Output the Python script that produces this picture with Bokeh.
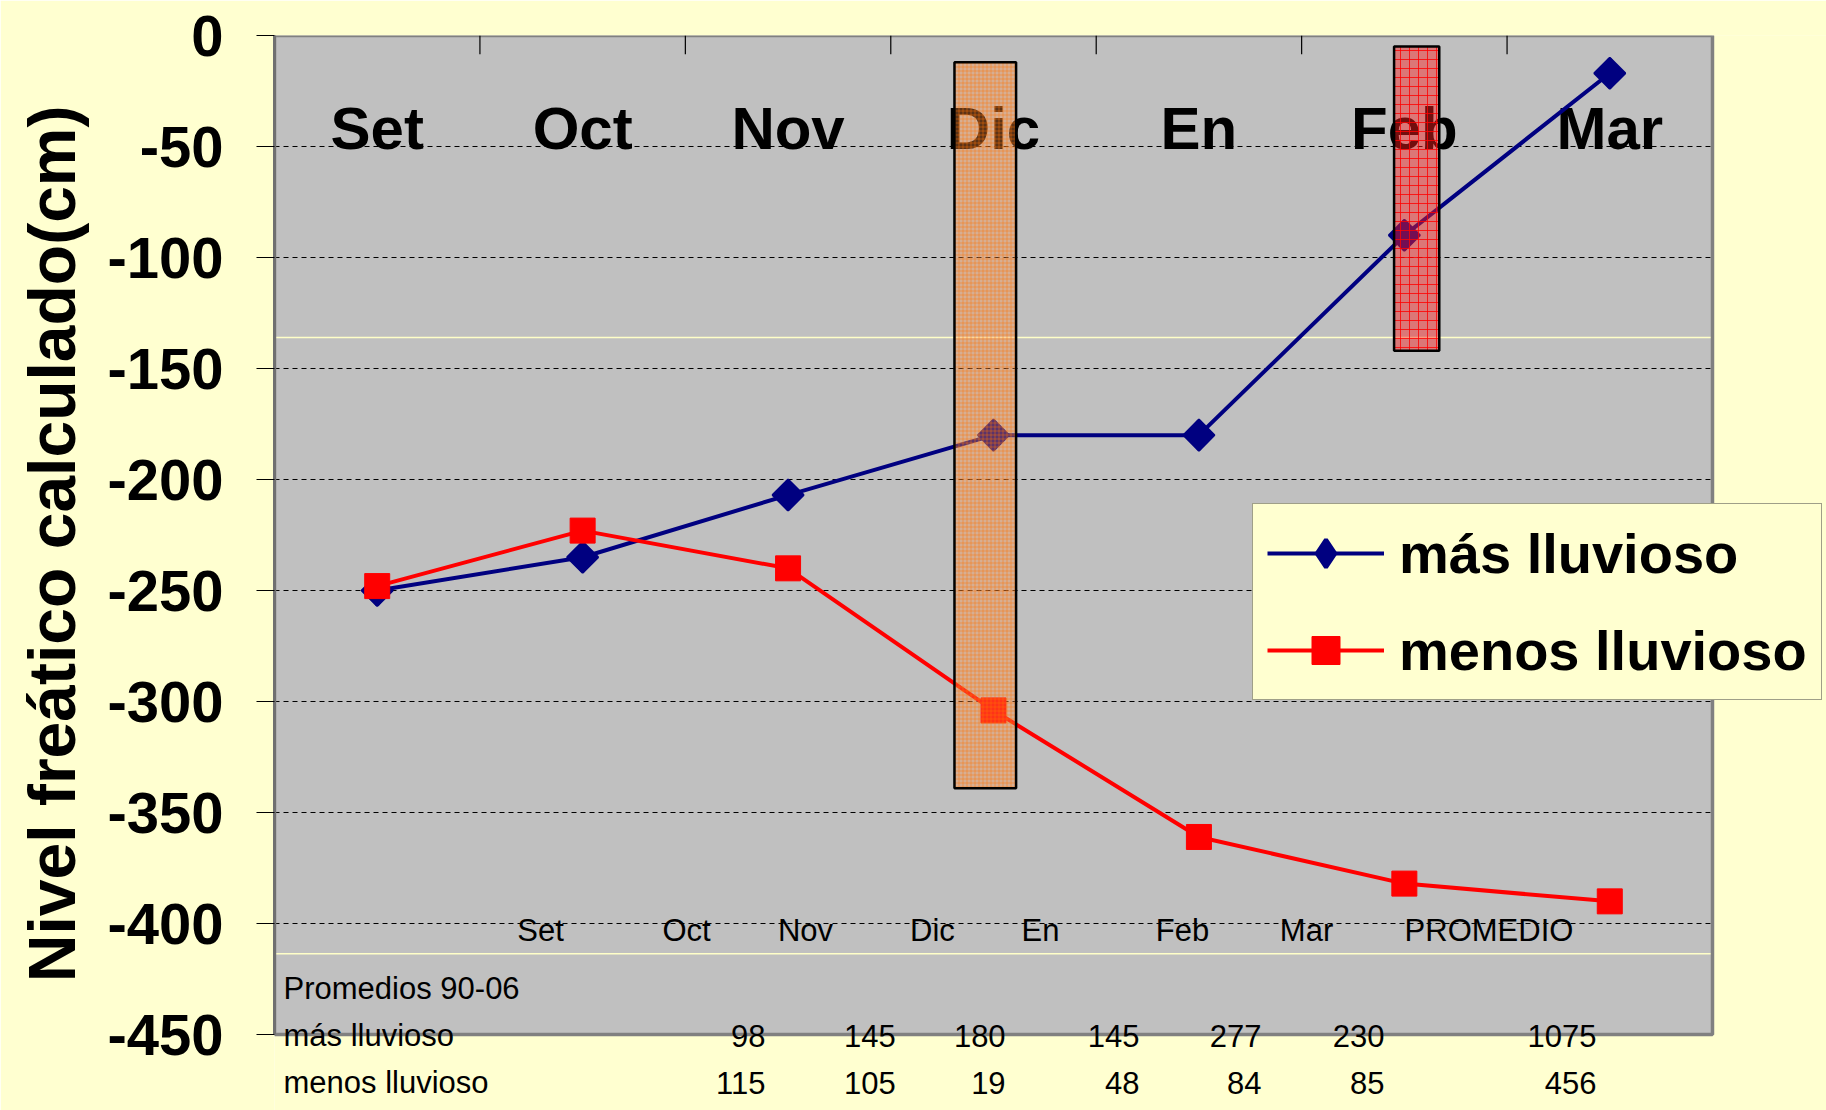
import math
from bokeh.plotting import figure
from bokeh.models import Range1d, FixedTicker, Legend, LegendItem, Title
from bokeh.core.properties import value
from bokeh.embed import file_html
from bokeh.resources import INLINE

# ---------------- data ----------------
months = ["Set", "Oct", "Nov", "Dic", "En", "Feb", "Mar"]
mas_lluvioso = [-250, -235, -207, -180, -180, -90, -17]
menos_lluvioso = [-248, -223, -240, -304, -361, -382, -390]

y_ticks = [0, -50, -100, -150, -200, -250, -300, -350, -400, -450]
y_tick_labels = ["0", "-50", "-100", "-150", "-200", "-250", "-300", "-350", "-400", "-450"]
y_title = "Nivel freático calculado(cm)"

# highlighted months (bands), in category units along x and cm along y
band_left = [3.31, 5.45]
band_right = [3.61, 5.67]
band_top = [-12, -5]
band_bottom = [-339, -142]

# table of average rainfall 90-06
table_header = ["Set", "Oct", "Nov", "Dic", "En", "Feb", "Mar", "PROMEDIO"]
table_title = "Promedios 90-06"
row_labels = ["más lluvioso", "menos lluvioso"]
lluvia_mas = [98, 145, 180, 145, 277, 230, 1075]
lluvia_menos = [115, 105, 19, 48, 84, 85, 456]

# ---------------- layout (style) ----------------
header_x = [1.295, 2.006, 2.585, 3.203, 3.729, 4.42, 5.024, 5.912]
value_x = [2.390, 3.024, 3.559, 4.211, 4.805, 5.403, 6.435]
table_y = [-403.2, -429.3, -450.6, -471.7]
table_left_x = 0.044
separator_y = [-136, -413.6]

BG = "#FFFFD0"
GREY = "#C0C0C0"
FONT = "Liberation Sans"
NAVY = "#000080"
RED = "#FF0000"

n = len(months)
xc = [i + 0.5 for i in range(n)]

p = figure(width=1826, height=1110, x_range=Range1d(0, 7.555), y_range=Range1d(-484.2, 0),
           output_backend="svg", toolbar_location=None,
           min_border_left=274, min_border_top=35, min_border_bottom=0, min_border_right=0)
p.background_fill_color = BG
p.border_fill_color = BG
p.outline_line_color = None

# plot area background
p.quad(left=[0], right=[n], top=[y_ticks[0]], bottom=[y_ticks[-1]], fill_color=GREY,
       line_color=None, level="image")

# grid
p.xgrid.visible = False
p.ygrid.ticker = FixedTicker(ticks=y_ticks[1:-1])
p.ygrid.grid_line_color = "black"
p.ygrid.grid_line_dash = "5 4"
p.ygrid.grid_line_width = 1

# mask right of the plot area
p.quad(left=[n], right=[7.6], top=[0], bottom=[-485], fill_color=BG, line_color=None)

# thin yellowish separator lines
p.segment(x0=[0] * 2, x1=[n] * 2, y0=separator_y, y1=separator_y,
          line_color="#FFFFC8", line_width=1.5)

# border of plot area
p.quad(left=[0], right=[n], top=[y_ticks[0]], bottom=[y_ticks[-1]], fill_color=None,
       line_color="#808080", line_width=3.5)

# category tick marks on the top edge (pointing into the plot)
bounds = list(range(1, n))
p.segment(x0=bounds, x1=bounds, y0=[0] * len(bounds), y1=[-8.5] * len(bounds),
          line_color="black", line_width=1.2)

# y axis
p.xaxis.visible = False
ya = p.yaxis[0]
ya.ticker = FixedTicker(ticks=y_ticks)
ya.major_label_overrides = {t: s for t, s in zip(y_ticks, y_tick_labels)}
ya.bounds = (y_ticks[-1], y_ticks[0])
ya.major_label_text_font = FONT
ya.major_label_text_font_style = "bold"
ya.major_label_text_font_size = "58px"
ya.major_label_text_color = "black"
ya.major_tick_out = 18
ya.major_tick_in = 0
ya.minor_tick_out = 0
ya.minor_tick_in = 0
ya.major_label_standoff = 33
ya.axis_line_color = "#707070"
ya.axis_line_width = 3
ya.major_tick_line_color = "black"

# y title, anchored near the top of the axis like the original
p.add_layout(Title(text=y_title, align="right", vertical_align="top", offset=70,
                   standoff=27, text_font=FONT, text_font_style="bold",
                   text_font_size="66px", text_color="black"), "left")

# month labels at top
p.text(x=xc, y=[-42] * n, text=months, text_font=value(FONT), text_font_style="bold",
       text_font_size="60px", text_align="center", text_baseline="middle", text_color="black")

# series
l1 = p.line(xc, mas_lluvioso, line_color=NAVY, line_width=4)
# diamond marker (used by the legend), covered in the plot by the rotated square below
d1 = p.scatter(xc, mas_lluvioso, marker="diamond", size=28, fill_color=NAVY,
               line_color=NAVY, line_width=4)
s1 = p.scatter(xc, mas_lluvioso, marker="square", angle=math.pi / 4, size=22,
               fill_color=NAVY, line_color=NAVY, line_width=2)
l2 = p.line(xc, menos_lluvioso, line_color=RED, line_width=4)
s2 = p.scatter(xc, menos_lluvioso, marker="square", size=25,
               fill_color=RED, line_color=RED)

# highlighted bands
p.quad(left=band_left[:1], right=band_right[:1], top=band_top[:1], bottom=band_bottom[:1],
       fill_color="#FF8C40", fill_alpha=0.36, hatch_pattern="+", hatch_color="#FF7000",
       hatch_scale=4, hatch_weight=1, hatch_alpha=0.45, line_color="black", line_width=2.5)
p.quad(left=band_left[1:], right=band_right[1:], top=band_top[1:], bottom=band_bottom[1:],
       fill_color="#FF2020", fill_alpha=0.45, hatch_pattern="+", hatch_color="#FF0000",
       hatch_scale=9, hatch_weight=1, hatch_alpha=0.8, line_color="black", line_width=2.5)

# table texts
tfont = dict(text_font=value(FONT), text_font_size="31px", text_baseline="middle",
             text_color="black")
p.text(x=header_x, y=[table_y[0]] * len(table_header), text=table_header,
       text_align="center", **tfont)
p.text(x=[table_left_x], y=[table_y[1]], text=[table_title], text_align="left", **tfont)
p.text(x=[table_left_x] * 2, y=table_y[2:], text=row_labels, text_align="left", **tfont)
p.text(x=value_x, y=[table_y[2]] * len(lluvia_mas), text=[str(v) for v in lluvia_mas],
       text_align="right", **tfont)
p.text(x=value_x, y=[table_y[3]] * len(lluvia_menos), text=[str(v) for v in lluvia_menos],
       text_align="right", **tfont)

# legend
legend = Legend(items=[LegendItem(label="más lluvioso", renderers=[l1, d1]),
                       LegendItem(label="menos lluvioso", renderers=[l2, s2])],
                location=(978, 410))
legend.background_fill_color = BG
legend.background_fill_alpha = 1
legend.border_line_color = "#404040"
legend.border_line_width = 1.5
legend.label_text_font = FONT
legend.label_text_font_style = "bold"
legend.label_text_font_size = "56px"
legend.label_text_color = "black"
legend.glyph_width = 117
legend.glyph_height = 70
legend.label_height = 70
legend.spacing = 27
legend.padding = 14
legend.margin = 0
legend.label_standoff = 15
p.add_layout(legend)

open("out.html", "w").write(file_html(p, INLINE))
